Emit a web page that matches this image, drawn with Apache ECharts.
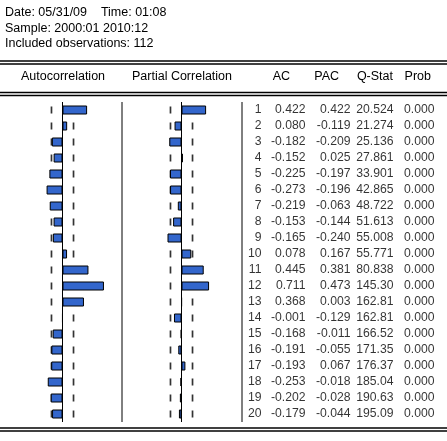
<!DOCTYPE html>
<html><head><meta charset="utf-8">
<script src="https://cdn.jsdelivr.net/npm/echarts@6/dist/echarts.min.js"></script>
<style>html,body{margin:0;padding:0;background:#fff}#c{width:447px;height:441px}</style>
</head><body><div id="c"></div>
<script>
const lags = ['1','2','3','4','5','6','7','8','9','10','11','12','13','14','15','16','17','18','19','20'];
const acValues = [0.422,0.080,-0.182,-0.152,-0.225,-0.273,-0.219,-0.153,-0.165,0.078,0.445,0.711,0.368,-0.001,-0.168,-0.191,-0.193,-0.253,-0.202,-0.179];
const pacValues = [0.422,-0.119,-0.209,0.025,-0.197,-0.196,-0.063,-0.144,-0.240,0.167,0.381,0.473,0.003,-0.129,-0.011,-0.055,0.067,-0.018,-0.028,-0.044];
const qStat = ['20.524','21.274','25.136','27.861','33.901','42.865','48.722','51.613','55.008','55.771','80.838','145.30','162.81','162.81','166.52','171.35','176.37','185.04','190.63','195.09'];
const probValues = ['0.000','0.000','0.000','0.000','0.000','0.000','0.000','0.000','0.000','0.000','0.000','0.000','0.000','0.000','0.000','0.000','0.000','0.000','0.000','0.000'];
const columnHeaders = ['AC','PAC','Q-Stat','Prob'];
const bound = 0.189;
const headerLines = ['Date: 05/31/09    Time: 01:08','Sample: 2000:01 2010:12','Included observations: 112'];

// layout (pixel offsets of the right edge of each text column inside the table grid)
const colRight = [19, 63, 108, 151, 192];

const FONT = 'Liberation Sans, Arial, sans-serif';
const FS = 12.5;
const FS_TABLE = 12.2;
const BLUE = '#3366cc';
const chart = echarts.init(document.getElementById('c'), null, {renderer:'canvas'});

const gridTop = 102, gridH = 320;
const SCALE = 58.3;
function catAxis(gi){
  return {type:'category', gridIndex:gi, data:lags, inverse:true, show:false};
}
function valAxis(gi){
  return {type:'value', gridIndex:gi, min:-1, max:1, show:false};
}
const fmt3 = v => (v < 0 ? '-' : '') + Math.abs(v).toFixed(3);

function barSeries(vals, gi){
  return {type:'bar', xAxisIndex:gi, yAxisIndex:gi, data:vals, barWidth:9, z:3,
    itemStyle:{color:BLUE, borderColor:'#000', borderWidth:1},
    markLine:{silent:true, symbol:'none', label:{show:false}, animation:false,
      lineStyle:{color:'#000', type:'solid', width:1}, data:[{xAxis:0}]}};
}
function boundSeries(gi){
  const d = [];
  lags.forEach(l=>{ d.push([bound, l]); d.push([-bound, l]); });
  return {type:'scatter', xAxisIndex:gi, yAxisIndex:gi, data:d, symbol:'rect',
    symbolSize:[1.7,7], z:2, itemStyle:{color:'#000'}, silent:true};
}
function textSeries(colIdx, labels){
  return {type:'scatter', xAxisIndex:2, yAxisIndex:2, symbolSize:1, z:4,
    itemStyle:{color:'transparent'}, silent:true,
    data: lags.map((l,i)=>({value:[colRight[colIdx], l], txt:labels[i]})),
    label:{show:true, position:'left', distance:0,
      color:'#000', fontFamily:FONT, fontSize:FS_TABLE,
      formatter:p=>p.data.txt}};
}

const graphics = [];
headerLines.forEach((t,i)=>graphics.push({type:'text', left:5, top:6.5+i*15.5,
  style:{text:t, font:FS+'px '+FONT, fill:'#000'}}));
[61,64,92.5,95.5,428,431].forEach(y=>graphics.push({type:'line', shape:{x1:0,y1:y,x2:447,y2:y},
  style:{stroke:'#000', lineWidth:1.3}}));
[122,242].forEach(x=>graphics.push({type:'line', shape:{x1:x,y1:gridTop,x2:x,y2:gridTop+gridH},
  style:{stroke:'#000', lineWidth:1}}));
const heads = [['Autocorrelation',63,'center'],['Partial Correlation',182,'center'],
  [columnHeaders[0],290,'right'],[columnHeaders[1],339,'right'],[columnHeaders[2],393,'right'],[columnHeaders[3],431,'right']];
heads.forEach(h=>graphics.push({type:'text', x:h[1], y:77,
  style:{text:h[0], font:FS+'px '+FONT, fill:'#000', textAlign:h[2], textVerticalAlign:'middle'}}));

chart.setOption({
  animation:false,
  backgroundColor:'#fff',
  grid:[
    {left:62.5-SCALE, top:gridTop, width:2*SCALE, height:gridH},
    {left:181.5-SCALE, top:gridTop, width:2*SCALE, height:gridH},
    {left:243, top:gridTop, right:0, height:gridH}
  ],
  xAxis:[valAxis(0), valAxis(1), {type:'value', gridIndex:2, min:0, max:204, show:false}],
  yAxis:[catAxis(0), catAxis(1), catAxis(2)],
  series:[
    boundSeries(0), barSeries(acValues,0),
    boundSeries(1), barSeries(pacValues,1),
    textSeries(0, lags),
    textSeries(1, acValues.map(fmt3)),
    textSeries(2, pacValues.map(fmt3)),
    textSeries(3, qStat),
    textSeries(4, probValues)
  ],
  graphic: graphics
});
</script></body></html>
